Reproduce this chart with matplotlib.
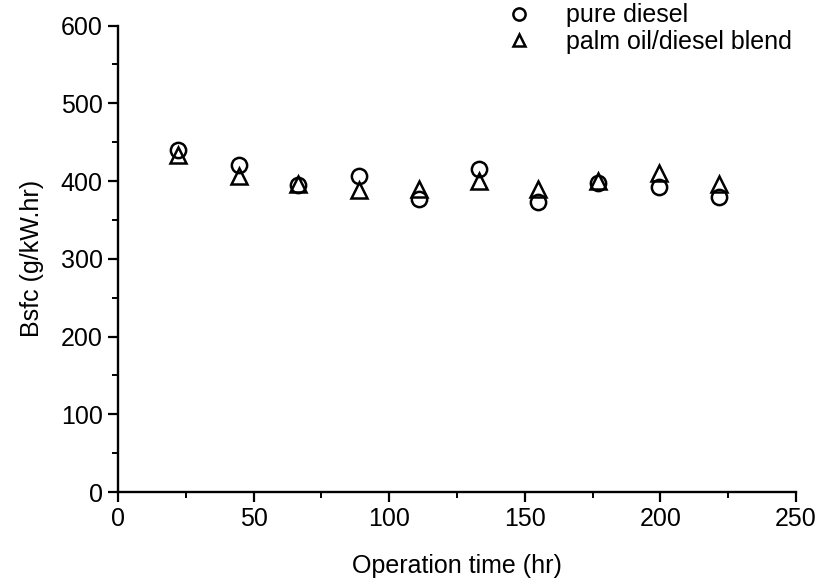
import matplotlib.pyplot as plt
from matplotlib.ticker import MultipleLocator

plt.rcParams['font.family'] = ['Liberation Sans', 'DejaVu Sans']

# Operation time (hr) and Bsfc (g/kW.hr)
time_hr = [22, 44.5, 66.5, 89, 111, 133, 155, 177, 199.5, 221.5]
bsfc_diesel = [440, 421, 395, 406, 377, 416, 373, 398, 393, 380]
bsfc_blend = [433, 407, 396, 388, 390, 400, 390, 400, 411, 396]

fig = plt.figure(figsize=(8.3, 5.82), dpi=100)
ax = fig.add_axes([0.1422, 0.1546, 0.8168, 0.8014])

ax.plot(time_hr, bsfc_diesel, linestyle='none', marker='o', markersize=11,
        markerfacecolor='none', markeredgecolor='black', markeredgewidth=1.8,
        label='pure diesel')
ax.plot(time_hr, bsfc_blend, linestyle='none', marker='^', markersize=11,
        markerfacecolor='none', markeredgecolor='black', markeredgewidth=1.8,
        label='palm oil/diesel blend')

ax.set_xlim(0, 250)
ax.set_ylim(0, 600)
ax.xaxis.set_major_locator(MultipleLocator(50))
ax.xaxis.set_minor_locator(MultipleLocator(25))
ax.yaxis.set_major_locator(MultipleLocator(100))
ax.yaxis.set_minor_locator(MultipleLocator(50))

for s in ['top', 'right']:
    ax.spines[s].set_visible(False)
for s in ['left', 'bottom']:
    ax.spines[s].set_linewidth(1.7)
ax.tick_params(which='major', direction='out', length=7, width=1.6, labelsize=18, pad=4)
ax.tick_params(which='minor', direction='out', length=4, width=1.4)

ax.set_xlabel('Operation time (hr)', fontsize=18, labelpad=16)
ax.set_ylabel('Bsfc (g/kW.hr)', fontsize=18, labelpad=12)

ax.legend(loc='upper left', bbox_to_anchor=(0.575, 1.033), bbox_transform=fig.transFigure,
          frameon=False, fontsize=18, markerscale=0.8, handletextpad=1.15,
          labelspacing=0.1, handlelength=1.5)

fig.savefig('out.png', dpi=100)
